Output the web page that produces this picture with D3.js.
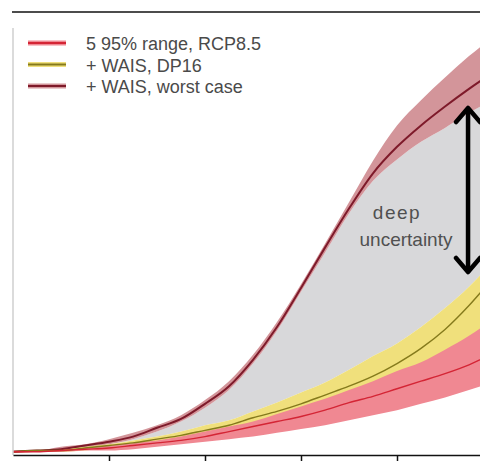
<!DOCTYPE html>
<html>
<head>
<meta charset="utf-8">
<script src="https://cdn.jsdelivr.net/npm/d3@7"></script>
<style>
  html, body { margin: 0; padding: 0; background: #fff; }
  svg { display: block; }
  text { font-family: "Liberation Sans", Arial, Helvetica, sans-serif; }
</style>
</head>
<body>
<svg id="chart" width="480" height="461"></svg>
<script>
// Sea-level rise projections (m above 2000 level)
const years = [2000, 2005, 2010, 2015, 2020, 2025, 2030, 2035, 2040, 2045, 2050,
               2055, 2060, 2065, 2070, 2075, 2080, 2085, 2090, 2095, 2100];

// RCP8.5, 5-95% range and median
const rcpLow  = [0.00, 0.01, 0.01, 0.02, 0.02, 0.03, 0.05, 0.07, 0.09, 0.11, 0.13,
                 0.16, 0.19, 0.22, 0.26, 0.30, 0.34, 0.39, 0.44, 0.50, 0.56];
const rcpMid  = [0.01, 0.01, 0.02, 0.03, 0.04, 0.06, 0.08, 0.10, 0.13, 0.17, 0.21,
                 0.25, 0.29, 0.34, 0.40, 0.45, 0.51, 0.57, 0.63, 0.70, 0.79];
const rcpHigh = [0.01, 0.01, 0.02, 0.04, 0.06, 0.08, 0.10, 0.13, 0.17, 0.21, 0.25,
                 0.31, 0.37, 0.43, 0.50, 0.57, 0.65, 0.72, 0.82, 0.93, 1.06];

// + WAIS contribution, DP16
const dpLow  = [0.00, 0.01, 0.01, 0.02, 0.04, 0.05, 0.07, 0.09, 0.12, 0.15, 0.19,
                0.23, 0.27, 0.32, 0.37, 0.43, 0.50, 0.58, 0.68, 0.80, 0.94];
const dpMid  = [0.01, 0.02, 0.02, 0.04, 0.06, 0.08, 0.11, 0.14, 0.18, 0.22, 0.28,
                0.33, 0.39, 0.46, 0.53, 0.61, 0.71, 0.83, 0.98, 1.17, 1.39];
const dpHigh = [0.01, 0.02, 0.03, 0.05, 0.07, 0.10, 0.13, 0.17, 0.22, 0.26, 0.33,
                0.40, 0.48, 0.56, 0.66, 0.77, 0.87, 1.00, 1.15, 1.32, 1.52];

// + WAIS, worst case
const worstLow  = [0.00, 0.01, 0.02, 0.04, 0.07, 0.11, 0.17, 0.25, 0.36, 0.50, 0.71,
                   0.97, 1.28, 1.59, 1.90, 2.16, 2.33, 2.47, 2.58, 2.70, 2.80];
const worstMid  = [0.01, 0.02, 0.03, 0.06, 0.09, 0.13, 0.20, 0.27, 0.39, 0.53, 0.74,
                   1.00, 1.31, 1.63, 1.94, 2.22, 2.43, 2.60, 2.75, 2.89, 3.02];
const worstHigh = [0.02, 0.02, 0.05, 0.07, 0.11, 0.16, 0.22, 0.30, 0.42, 0.57, 0.78,
                   1.04, 1.34, 1.66, 1.99, 2.32, 2.60, 2.80, 2.98, 3.15, 3.30];

const tickYears = [2020, 2040, 2060, 2080];
const legendLabels = ["5  95% range, RCP8.5", "+ WAIS, DP16", "+ WAIS, worst case"];
const annotation = ["deep", "uncertainty"];

const svg = d3.select("#chart");
const W = 480, H = 461;

const x = d3.scaleLinear().domain([2000, 2100]).range([13, 493]);
const y = d3.scaleLinear().domain([0, 3.5]).range([453, 12]);

const rows = years.map((yr, i) => ({
  yr,
  rcpLow: rcpLow[i], rcpMid: rcpMid[i], rcpHigh: rcpHigh[i],
  dpLow: dpLow[i], dpMid: dpMid[i], dpHigh: dpHigh[i],
  worstLow: worstLow[i], worstMid: worstMid[i], worstHigh: worstHigh[i]
}));

const curve = d3.curveMonotoneX;
const band = (lo, hi) => d3.area().curve(curve)
  .x(d => x(d.yr)).y0(d => y(d[lo])).y1(d => y(d[hi]));
const line = key => d3.line().curve(curve).x(d => x(d.yr)).y(d => y(d[key]));

svg.append("defs").append("clipPath").attr("id", "plotClip")
  .append("rect").attr("x", 13).attr("y", 12).attr("width", W - 13).attr("height", 443);

const plot = svg.append("g").attr("clip-path", "url(#plotClip)");

const colors = {
  grey: "#d8d8da",
  worstBand: "#d3959a",
  worstLine: "#7e1a2a",
  dpBand: "#f0e07c",
  dpLine: "#857a1c",
  rcpBand: "#f08892",
  rcpLine: "#d42535"
};

// grey "deep uncertainty" region between DP16 and worst case
plot.append("path").datum(rows).attr("d", band("dpHigh", "worstLow")).attr("fill", colors.grey);
plot.append("path").datum(rows).attr("d", band("worstLow", "worstHigh")).attr("fill", colors.worstBand);
plot.append("path").datum(rows).attr("d", band("dpLow", "dpHigh")).attr("fill", colors.dpBand);
plot.append("path").datum(rows).attr("d", band("rcpLow", "rcpHigh")).attr("fill", colors.rcpBand);

plot.append("path").datum(rows).attr("d", line("worstMid"))
  .attr("fill", "none").attr("stroke", colors.worstLine).attr("stroke-width", 2);
plot.append("path").datum(rows).attr("d", line("dpMid"))
  .attr("fill", "none").attr("stroke", colors.dpLine).attr("stroke-width", 1.4);
plot.append("path").datum(rows).attr("d", line("rcpMid"))
  .attr("fill", "none").attr("stroke", colors.rcpLine).attr("stroke-width", 1.4);

// axes
svg.append("line").attr("x1", 12).attr("x2", W).attr("y1", 12).attr("y2", 12)
  .attr("stroke", "#111").attr("stroke-width", 1.5);
svg.append("line").attr("x1", 13).attr("x2", 13).attr("y1", 28).attr("y2", 455)
  .attr("stroke", "#cfcfcf").attr("stroke-width", 1.5);

const xAxis = svg.append("g").attr("transform", "translate(0,455)")
  .call(d3.axisBottom(x).tickValues(tickYears).tickFormat("").tickSize(6).tickSizeOuter(0));
xAxis.select(".domain").attr("stroke", "#111").attr("stroke-width", 1.5);
xAxis.selectAll(".tick line").attr("stroke", "#111").attr("stroke-width", 1.5);

// double-headed arrow spanning the uncertainty range near 2095
const ax = x(2094.8);
const aTop = 108, aBot = 272;
const arrow = svg.append("g").attr("stroke", "#000").attr("stroke-width", 4.5)
  .attr("fill", "none").attr("stroke-linecap", "round").attr("stroke-linejoin", "round");
arrow.append("line").attr("x1", ax).attr("x2", ax).attr("y1", aTop + 2).attr("y2", aBot - 2);
arrow.append("path").attr("d", `M${ax - 12},${aTop + 14} L${ax},${aTop} L${ax + 12},${aTop + 14}`);
arrow.append("path").attr("d", `M${ax - 12},${aBot - 14} L${ax},${aBot} L${ax + 12},${aBot - 14}`);

svg.append("text").attr("x", 397).attr("y", 219).attr("text-anchor", "middle")
  .attr("font-size", 19).attr("letter-spacing", 1.5).attr("fill", "#505050").text(annotation[0]);
svg.append("text").attr("x", 406).attr("y", 246).attr("text-anchor", "middle")
  .attr("font-size", 19).attr("fill", "#505050").text(annotation[1]);

// legend
const legendBands = [colors.rcpBand, colors.dpBand, colors.worstBand];
const legendLines = [colors.rcpLine, colors.dpLine, colors.worstLine];
const legend = svg.append("g");
legendLabels.forEach((lab, i) => {
  const ly = 43 + i * 21.5;
  legend.append("line").attr("x1", 28).attr("x2", 66).attr("y1", ly).attr("y2", ly)
    .attr("stroke", legendBands[i]).attr("stroke-width", 5);
  legend.append("line").attr("x1", 28).attr("x2", 66).attr("y1", ly).attr("y2", ly)
    .attr("stroke", legendLines[i]).attr("stroke-width", 2);
  legend.append("text").attr("x", 86).attr("y", ly + 7)
    .attr("font-size", 18).attr("fill", "#4a4a4a").text(lab);
});
</script>
</body>
</html>
